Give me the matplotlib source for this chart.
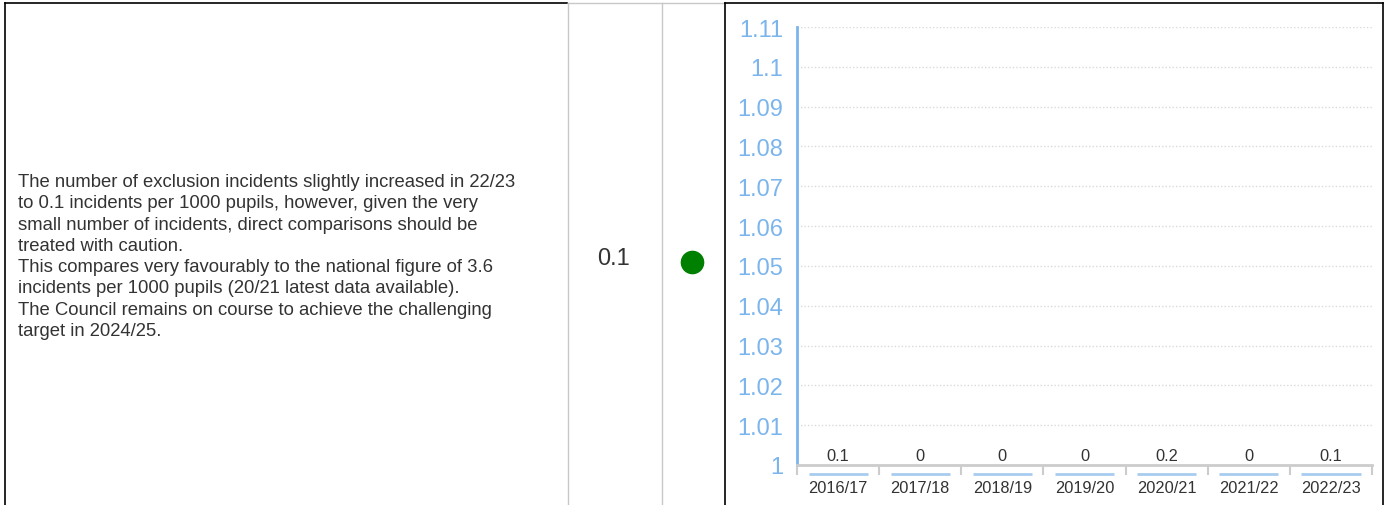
import matplotlib.pyplot as plt
from matplotlib.lines import Line2D

plt.rcParams['font.family'] = ['Liberation Sans', 'DejaVu Sans']

# data
years = ['2016/17', '2017/18', '2018/19', '2019/20', '2020/21', '2021/22', '2022/23']
values = [0.1, 0, 0, 0, 0.2, 0, 0.1]
value_labels = ['0.1', '0', '0', '0', '0.2', '0', '0.1']
y_ticks = [1, 1.01, 1.02, 1.03, 1.04, 1.05, 1.06, 1.07, 1.08, 1.09, 1.1, 1.11]
y_tick_labels = ['1', '1.01', '1.02', '1.03', '1.04', '1.05', '1.06', '1.07', '1.08', '1.09', '1.1', '1.11']
current_value = '0.1'
comment = ("The number of exclusion incidents slightly increased in 22/23\n"
           "to 0.1 incidents per 1000 pupils, however, given the very\n"
           "small number of incidents, direct comparisons should be\n"
           "treated with caution.\n"
           "This compares very favourably to the national figure of 3.6\n"
           "incidents per 1000 pupils (20/21 latest data available).\n"
           "The Council remains on course to achieve the challenging\n"
           "target in 2024/25.")

W, H = 1386, 506
fig = plt.figure(figsize=(W / 100, H / 100), dpi=100)

def fx(px):
    return px / W

def fy(py):
    return 1 - py / H

# table borders
black = '#000000'
grey = '#c8c8c8'
fig.add_artist(Line2D([fx(5), fx(5)], [fy(4), fy(506)], color=black, lw=1.2))
fig.add_artist(Line2D([fx(5), fx(567)], [fy(4), fy(4)], color=black, lw=1.2))
fig.add_artist(Line2D([fx(568), fx(725)], [fy(4), fy(4)], color=grey, lw=1))
fig.add_artist(Line2D([fx(568), fx(568)], [fy(4), fy(506)], color=grey, lw=1))
fig.add_artist(Line2D([fx(662), fx(662)], [fy(4), fy(506)], color=grey, lw=1))
fig.add_artist(Line2D([fx(725), fx(725)], [fy(4), fy(506)], color=black, lw=1.2))
fig.add_artist(Line2D([fx(725), fx(1383)], [fy(4), fy(4)], color=black, lw=1.2))
fig.add_artist(Line2D([fx(1383), fx(1383)], [fy(4), fy(506)], color=black, lw=1.2))

# commentary text
fig.text(fx(18), fy(257), comment, fontsize=13.3, color='#333333',
         ha='left', va='center', linespacing=1.33)

# current value and RAG status
fig.text(fx(614), fy(259), current_value, fontsize=17, color='#333333',
         ha='center', va='center')
fig.add_artist(Line2D([fx(692)], [fy(263)], marker='o', markersize=16,
                      markerfacecolor='#008000', markeredgecolor='#008000'))

# chart
left, right, top, bottom = 797, 1372, 28, 466
ax = fig.add_axes([fx(left), fy(bottom), fx(right - left), (bottom - top) / H])
x = list(range(len(years)))
ax.bar(x, values, width=0.72, color='#7cb5ec')
ax.set_xlim(-0.5, len(years) - 0.5)
ax.set_ylim(1, 1.11)
ax.set_yticks(y_ticks)
ax.set_yticklabels(y_tick_labels)
ax.tick_params(axis='y', length=0, colors='#7cb5ec', labelsize=17, pad=10)
ax.set_xticks([i - 0.5 for i in range(len(years) + 1)], minor=False)
ax.set_xticklabels([])
ax.tick_params(axis='x', which='major', length=7, width=1.5, color='#cccccc',
               direction='out')
ax.set_xticks(x, minor=True)
ax.set_xticklabels(years, minor=True)
ax.tick_params(axis='x', which='minor', length=0, labelsize=11.8, colors='#333333', pad=11)

for t in y_ticks[1:]:
    ax.axhline(t, color='#dadada', lw=1, ls=(0, (1, 1.5)), zorder=0)

for s in ['top', 'right']:
    ax.spines[s].set_visible(False)
ax.spines['left'].set_color('#7cb5ec')
ax.spines['left'].set_linewidth(2)
ax.spines['bottom'].set_color('#cccccc')
ax.spines['bottom'].set_linewidth(2)

# bar markers below the axis and value labels
trans = ax.get_xaxis_transform()
for i, lab in enumerate(value_labels):
    ax.plot([i - 0.36, i + 0.36], [-0.021, -0.021], transform=trans,
            color='#a8ccef', lw=2, clip_on=False, solid_capstyle='butt')
    ax.text(i, 0.005, lab, transform=trans, ha='center', va='bottom',
            fontsize=11.8, color='#333333')

fig.savefig('out.png', dpi=100)
